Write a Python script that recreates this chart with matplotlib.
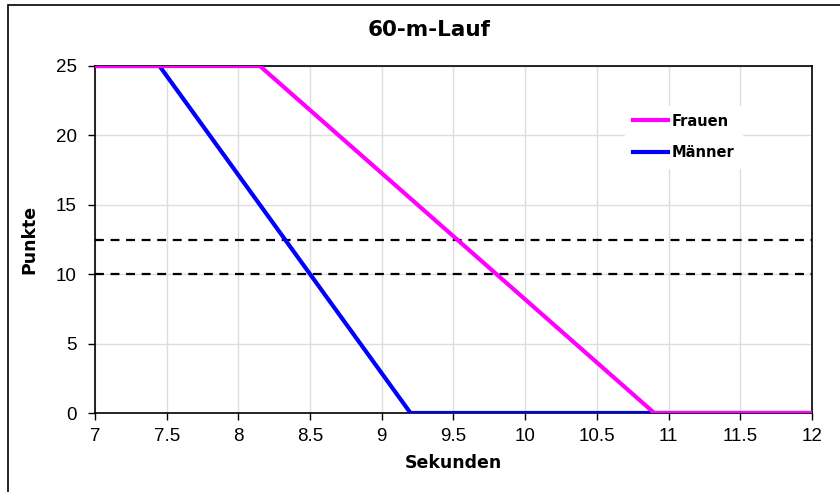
import matplotlib
matplotlib.use("Agg")
import matplotlib.pyplot as plt
from matplotlib.patches import Rectangle

title = "60-m-Lauf"
xlabel = "Sekunden"
ylabel = "Punkte"

frauen_x = [7.0, 8.15, 10.9, 12.0]
frauen_y = [25, 25, 0, 0]
maenner_x = [7.0, 7.45, 9.2, 12.0]
maenner_y = [25, 25, 0, 0]
threshold_levels = [12.5, 10]

x_ticks = [7, 7.5, 8, 8.5, 9, 9.5, 10, 10.5, 11, 11.5, 12]
x_tick_labels = ["7", "7.5", "8", "8.5", "9", "9.5", "10", "10.5", "11", "11.5", "12"]
y_ticks = [0, 5, 10, 15, 20, 25]

W, H = 840, 492
fig = plt.figure(figsize=(W / 100, H / 100), dpi=100)
ax = fig.add_axes([95 / W, 1 - 413 / H, (812 - 95) / W, (413 - 66) / H])

tickfont = "Liberation Sans"

ax.set_xlim(7, 12)
ax.set_ylim(0, 25)
ax.set_xticks(x_ticks)
ax.set_xticklabels(x_tick_labels, fontfamily=tickfont, fontsize=13.5)
ax.set_yticks(y_ticks)
ax.set_yticklabels([str(v) for v in y_ticks], fontfamily=tickfont, fontsize=13.5)
ax.tick_params(axis="both", direction="out", length=5, width=1, color="black")
ax.tick_params(axis="y", pad=8)
ax.tick_params(axis="x", pad=6)

ax.grid(True, color="#dedede", linewidth=1)
ax.set_axisbelow(True)

for lvl in threshold_levels:
    ax.axhline(lvl, color="black", linestyle=(0, (4, 3)), linewidth=1.6, zorder=2)

ax.plot(maenner_x, maenner_y, color="#0000ff", linewidth=3, label="Männer", zorder=3,
        solid_joinstyle="miter")
ax.plot(frauen_x, frauen_y, color="#ff00ff", linewidth=3, label="Frauen", zorder=3,
        solid_joinstyle="miter")

for s in ax.spines.values():
    s.set_color("black")
    s.set_linewidth(1.2)

ax.set_xlabel(xlabel, fontsize=12.5, fontweight="bold", labelpad=6)
ax.set_ylabel(ylabel, fontsize=12.5, fontweight="bold", labelpad=13)

handles, labels = ax.get_legend_handles_labels()
leg = ax.legend(handles[::-1], labels[::-1], loc="upper left",
                bbox_to_anchor=((618 - 95) / (812 - 95), 1 - (99 - 66) / (413 - 66)),
                frameon=True, fancybox=False, edgecolor="white", facecolor="white",
                framealpha=1, prop={"weight": "bold", "size": 10.5},
                handlelength=2.4, labelspacing=1.15, handletextpad=0.3,
                borderpad=0.5)

fig.text(429 / W, 1 - 30 / H, title, ha="center", va="center",
         fontsize=15.5, fontweight="bold")

fig.patches.append(Rectangle((8 / W, -0.01), 1.0, 1 - 5 / H + 0.01,
                             transform=fig.transFigure, fill=False,
                             edgecolor="black", linewidth=1.2, figure=fig))

fig.savefig("out.png", dpi=100)
